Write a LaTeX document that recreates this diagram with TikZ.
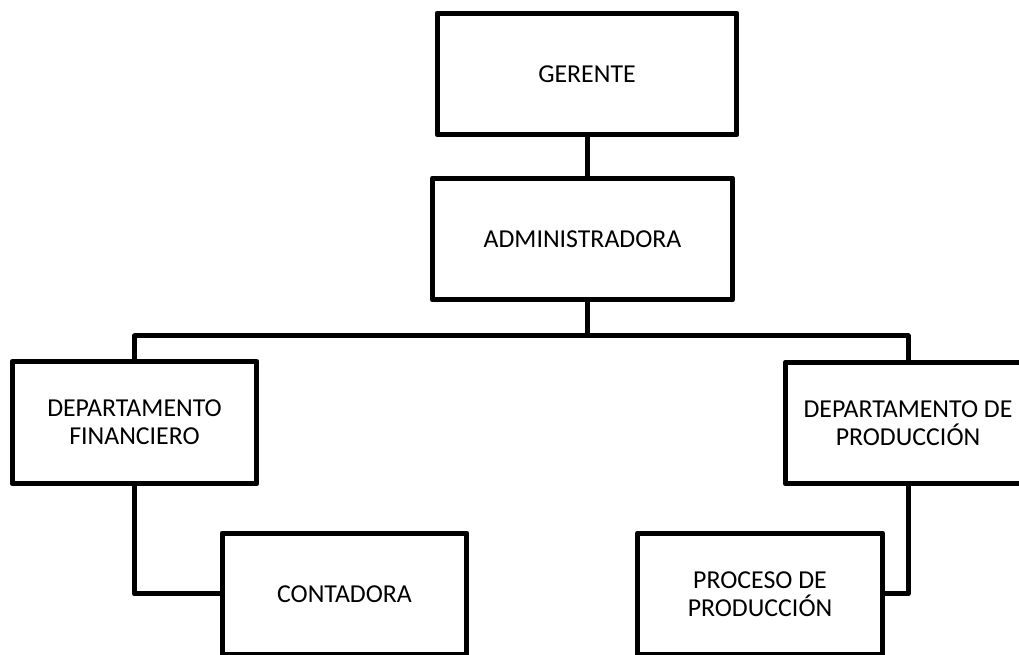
\documentclass[tikz,border=0pt]{standalone}
\usepackage{fontspec}
\setmainfont{Carlito}

\begin{document}
\begin{tikzpicture}[x=0.02cm,y=-0.02cm,
  caja/.style={draw,line width=0.1cm,line join=round,inner sep=0pt,align=center,
    minimum height=2.44cm,font=\fontsize{14.7}{16.1}\selectfont},
  ancha/.style={caja,minimum width=6cm},
  estrecha/.style={caja,minimum width=4.9cm},
  linea/.style={line width=0.1cm,line join=round}]
\useasboundingbox (0,0) rectangle (1019,655);
\clip (0,0) rectangle (1019,655);
\node[ancha] (gerente) at (587,74) {GERENTE};
\node[ancha] (admin) at (582.5,239) {ADMINISTRADORA};
\node[estrecha] (depfin) at (134.5,422.5) {DEPARTAMENTO\\FINANCIERO};
\node[estrecha] (depprod) at (908,423) {DEPARTAMENTO DE\\PRODUCCIÓN};
\node[estrecha] (contadora) at (344.5,594) {CONTADORA};
\node[estrecha] (proceso) at (760,594) {PROCESO DE\\PRODUCCIÓN};
\coordinate (bus) at (587,336);
\draw[linea] (gerente.south) -- (gerente.south |- admin.north);
\draw[linea] (bus |- admin.south) -- (bus);
\draw[linea] (depfin.north) |- (bus) -| (depprod.north);
\draw[linea] (depfin.south) |- (contadora.west);
\draw[linea] (depprod.south) |- (proceso.east);
\end{tikzpicture}
\end{document}
